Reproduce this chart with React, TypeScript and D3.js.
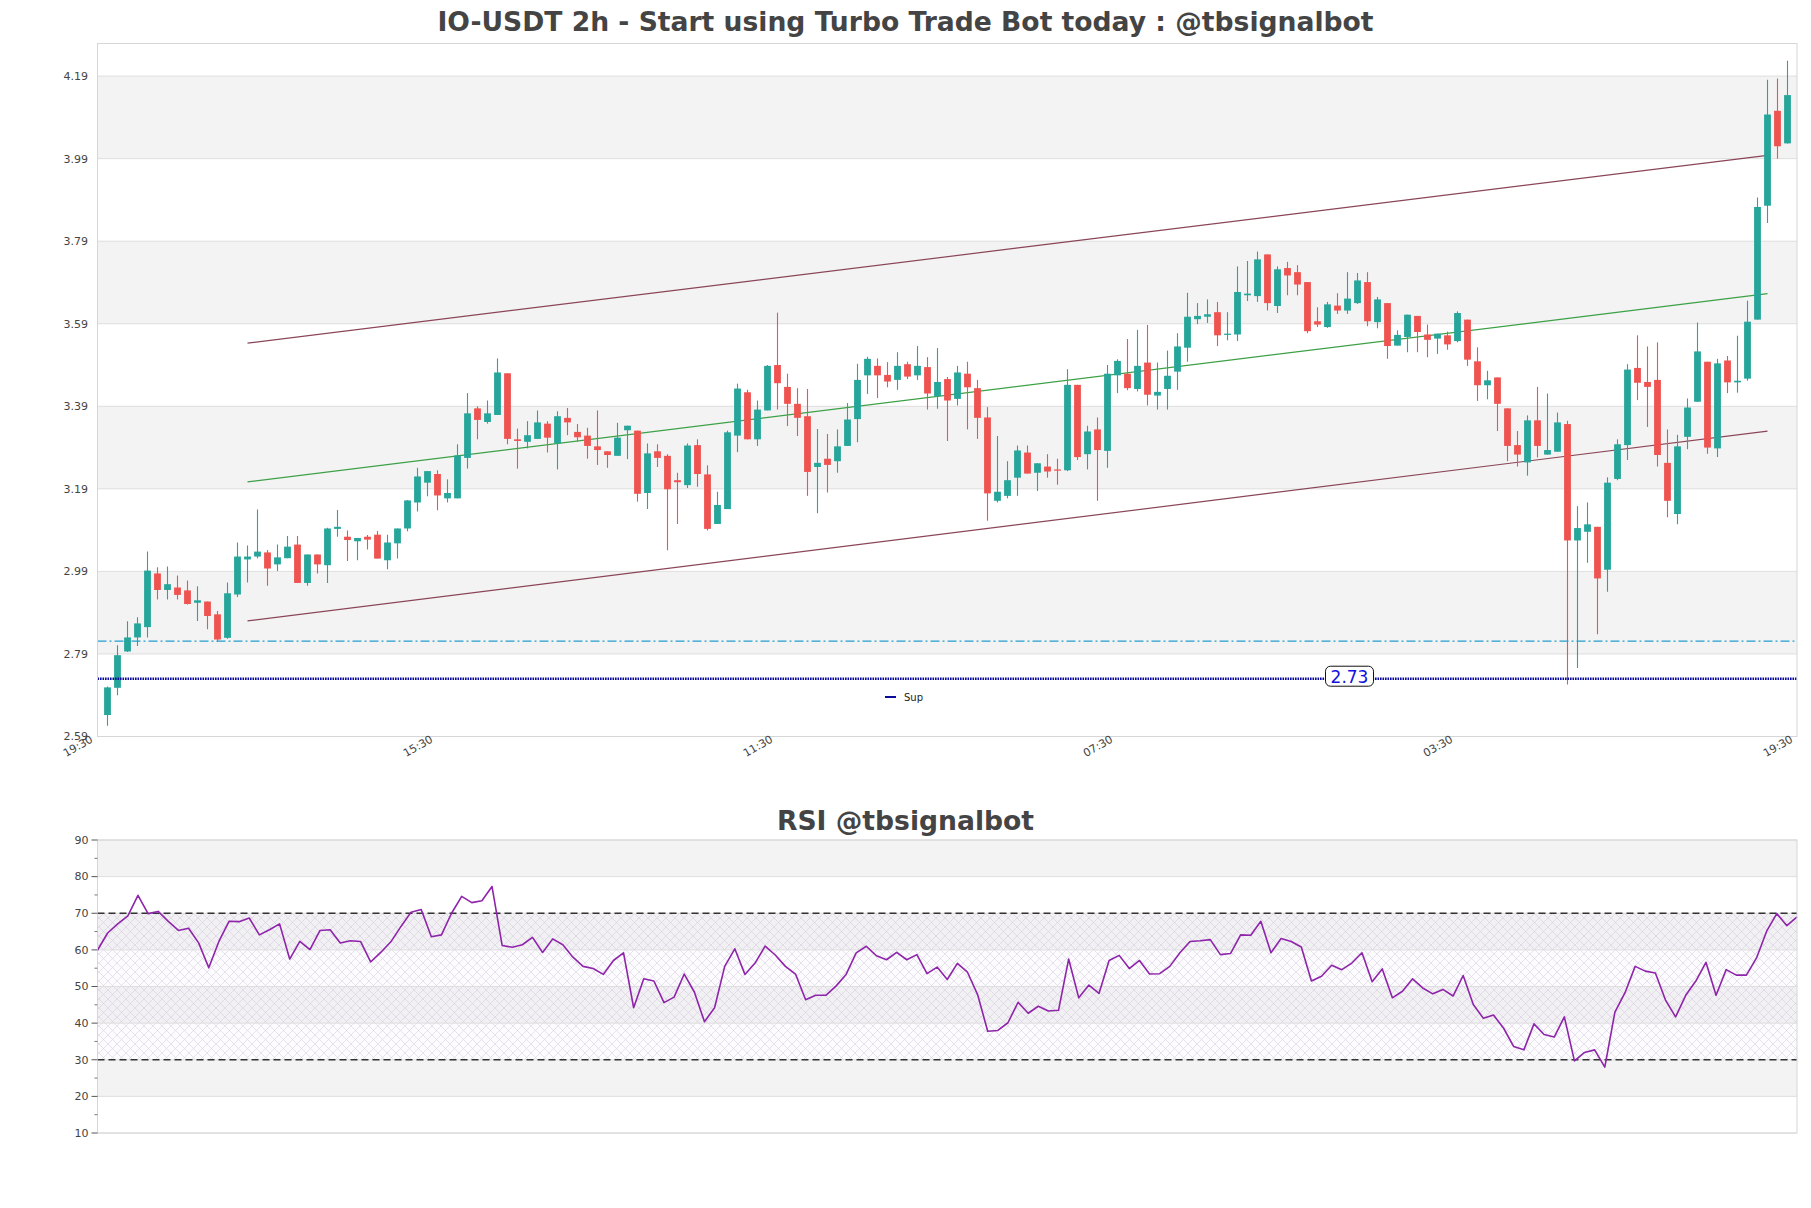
import * as d3 from 'd3';

// candles, 2h, oldest first
const opens = [
  2.642, 2.708, 2.796, 2.83, 2.855, 2.985, 2.945, 2.951, 2.944, 2.914,
  2.917, 2.886, 2.829, 2.934, 3.019, 3.026, 3.036, 3.007, 3.022, 3.055,
  2.962, 3.031, 3.005, 3.093, 3.074, 3.063, 3.074, 3.079, 3.017, 3.058,
  3.094, 3.157, 3.205, 3.226, 3.167, 3.167, 3.265, 3.385, 3.352, 3.369,
  3.47, 3.31, 3.304, 3.311, 3.348, 3.3, 3.362, 3.328, 3.319, 3.293,
  3.281, 3.27, 3.332, 3.331, 3.18, 3.281, 3.27, 3.211, 3.199, 3.296,
  3.225, 3.105, 3.141, 3.319, 3.424, 3.31, 3.38, 3.49, 3.437, 3.396,
  3.366, 3.243, 3.263, 3.257, 3.294, 3.359, 3.465, 3.488, 3.466, 3.454,
  3.492, 3.465, 3.485, 3.414, 3.456, 3.408, 3.469, 3.434, 3.363, 3.161,
  3.173, 3.217, 3.278, 3.229, 3.244, 3.237, 3.235, 3.442, 3.274, 3.334,
  3.282, 3.465, 3.469, 3.432, 3.496, 3.416, 3.432, 3.474, 3.532, 3.601,
  3.607, 3.618, 3.563, 3.564, 3.659, 3.657, 3.758, 3.633, 3.725, 3.715,
  3.691, 3.596, 3.582, 3.634, 3.622, 3.64, 3.691, 3.594, 3.64, 3.537,
  3.558, 3.609, 3.564, 3.554, 3.562, 3.548, 3.6, 3.499, 3.441, 3.46,
  3.385, 3.296, 3.254, 3.356, 3.273, 3.28, 3.347, 3.065, 3.086, 3.098,
  2.994, 3.214, 3.296, 3.483, 3.449, 3.454, 3.253, 3.129, 3.316, 3.401,
  3.498, 3.288, 3.501, 3.448, 3.457, 3.6, 3.876, 4.106, 4.027,
];
const highs = [
  2.711, 2.811, 2.869, 2.879, 3.038, 3.0, 3.002, 2.98, 2.968, 2.954,
  2.917, 2.894, 2.963, 3.06, 3.053, 3.14, 3.042, 3.055, 3.076, 3.076,
  3.031, 3.031, 3.096, 3.139, 3.089, 3.071, 3.078, 3.088, 3.079, 3.094,
  3.163, 3.241, 3.233, 3.235, 3.213, 3.298, 3.422, 3.39, 3.404, 3.506,
  3.47, 3.336, 3.354, 3.38, 3.354, 3.378, 3.386, 3.347, 3.338, 3.38,
  3.281, 3.35, 3.343, 3.331, 3.3, 3.298, 3.274, 3.229, 3.3, 3.31,
  3.247, 3.183, 3.331, 3.445, 3.43, 3.404, 3.49, 3.617, 3.469, 3.434,
  3.432, 3.335, 3.323, 3.334, 3.398, 3.493, 3.51, 3.506, 3.497, 3.521,
  3.498, 3.536, 3.509, 3.531, 3.461, 3.488, 3.498, 3.454, 3.388, 3.318,
  3.257, 3.295, 3.295, 3.252, 3.274, 3.263, 3.48, 3.442, 3.343, 3.363,
  3.49, 3.504, 3.553, 3.575, 3.587, 3.496, 3.525, 3.567, 3.665, 3.64,
  3.649, 3.643, 3.618, 3.729, 3.742, 3.765, 3.758, 3.729, 3.74, 3.732,
  3.691, 3.63, 3.643, 3.664, 3.715, 3.713, 3.715, 3.655, 3.64, 3.574,
  3.612, 3.609, 3.588, 3.566, 3.571, 3.62, 3.6, 3.533, 3.476, 3.46,
  3.385, 3.33, 3.368, 3.437, 3.421, 3.375, 3.355, 3.148, 3.157, 3.098,
  3.218, 3.31, 3.492, 3.562, 3.535, 3.545, 3.334, 3.321, 3.409, 3.593,
  3.498, 3.505, 3.512, 3.561, 3.646, 3.896, 4.181, 4.184, 4.227,
];
const lows = [
  2.616, 2.69, 2.795, 2.809, 2.83, 2.922, 2.922, 2.922, 2.91, 2.87,
  2.85, 2.819, 2.827, 2.928, 2.963, 3.022, 2.955, 2.991, 3.022, 2.962,
  2.955, 2.985, 2.962, 3.074, 3.015, 3.017, 3.043, 3.021, 2.995, 3.021,
  3.087, 3.135, 3.172, 3.138, 3.157, 3.167, 3.239, 3.31, 3.348, 3.369,
  3.298, 3.239, 3.288, 3.311, 3.278, 3.237, 3.32, 3.304, 3.263, 3.248,
  3.241, 3.27, 3.262, 3.159, 3.141, 3.243, 3.041, 3.105, 3.192, 3.195,
  3.089, 3.105, 3.141, 3.279, 3.31, 3.294, 3.38, 3.382, 3.342, 3.318,
  3.173, 3.131, 3.181, 3.229, 3.294, 3.303, 3.42, 3.41, 3.436, 3.43,
  3.456, 3.454, 3.382, 3.384, 3.306, 3.392, 3.334, 3.311, 3.113, 3.157,
  3.167, 3.173, 3.227, 3.185, 3.217, 3.2, 3.233, 3.26, 3.237, 3.161,
  3.241, 3.422, 3.429, 3.426, 3.392, 3.382, 3.382, 3.43, 3.498, 3.589,
  3.592, 3.536, 3.55, 3.548, 3.645, 3.643, 3.622, 3.616, 3.659, 3.659,
  3.567, 3.582, 3.58, 3.614, 3.614, 3.638, 3.584, 3.579, 3.505, 3.537,
  3.521, 3.521, 3.509, 3.517, 3.527, 3.545, 3.488, 3.403, 3.407, 3.33,
  3.257, 3.244, 3.222, 3.266, 3.273, 3.28, 2.716, 2.756, 3.011, 2.838,
  2.941, 3.211, 3.26, 3.405, 3.34, 3.244, 3.121, 3.104, 3.286, 3.401,
  3.275, 3.267, 3.422, 3.423, 3.452, 3.6, 3.834, 3.99, 4.027,
];
const closes = [
  2.709, 2.787, 2.83, 2.864, 2.992, 2.945, 2.959, 2.933, 2.911, 2.92,
  2.882, 2.825, 2.937, 3.026, 3.026, 3.038, 2.997, 3.024, 3.05, 2.962,
  3.031, 3.007, 3.094, 3.098, 3.066, 3.071, 3.067, 3.021, 3.06, 3.094,
  3.162, 3.22, 3.233, 3.174, 3.18, 3.271, 3.373, 3.357, 3.373, 3.472,
  3.311, 3.306, 3.32, 3.351, 3.314, 3.366, 3.351, 3.315, 3.294, 3.284,
  3.272, 3.314, 3.343, 3.178, 3.276, 3.265, 3.189, 3.206, 3.295, 3.226,
  3.093, 3.151, 3.327, 3.433, 3.31, 3.382, 3.488, 3.446, 3.396, 3.362,
  3.231, 3.253, 3.248, 3.293, 3.358, 3.454, 3.505, 3.465, 3.45, 3.488,
  3.462, 3.488, 3.421, 3.449, 3.404, 3.472, 3.436, 3.362, 3.179, 3.183,
  3.211, 3.283, 3.227, 3.252, 3.232, 3.234, 3.442, 3.267, 3.329, 3.284,
  3.469, 3.5, 3.434, 3.488, 3.418, 3.425, 3.464, 3.535, 3.607, 3.609,
  3.613, 3.562, 3.566, 3.667, 3.663, 3.746, 3.64, 3.722, 3.707, 3.685,
  3.572, 3.588, 3.637, 3.622, 3.651, 3.695, 3.596, 3.649, 3.536, 3.563,
  3.612, 3.57, 3.551, 3.566, 3.54, 3.616, 3.503, 3.441, 3.453, 3.396,
  3.294, 3.273, 3.356, 3.294, 3.284, 3.351, 3.065, 3.095, 3.104, 2.973,
  3.205, 3.298, 3.479, 3.447, 3.437, 3.272, 3.161, 3.293, 3.387, 3.523,
  3.29, 3.494, 3.448, 3.452, 3.595, 3.873, 4.097, 4.02, 4.144,
];

const rsiValues = [
  59.9, 64.6, 67.1, 69.3, 74.9, 69.9, 70.5, 67.8, 65.3, 65.9,
  61.9, 55.1, 62.3, 67.8, 67.7, 68.7, 64.1, 65.5, 67.1, 57.5,
  62.3, 60.1, 65.3, 65.5, 61.9, 62.5, 62.3, 56.7, 59.3, 62.2,
  66.4, 70.3, 71.0, 63.6, 64.1, 70.0, 74.6, 72.9, 73.4, 77.3,
  61.2, 60.7, 61.4, 63.4, 59.3, 63.0, 61.4, 58.0, 55.5, 54.9,
  53.3, 57.1, 59.2, 44.2, 52.1, 51.5, 45.6, 47.1, 53.4, 48.5,
  40.4, 44.2, 55.5, 60.3, 53.3, 56.4, 61.0, 58.6, 55.5, 53.4,
  46.4, 47.6, 47.6, 50.1, 53.3, 59.2, 61.0, 58.4, 57.3, 59.3,
  57.3, 58.7, 53.5, 55.3, 51.9, 56.3, 53.9, 47.8, 37.8, 38.0,
  40.1, 45.7, 42.7, 44.6, 43.3, 43.5, 57.5, 46.9, 50.4, 48.1,
  57.1, 58.5, 54.9, 57.1, 53.4, 53.5, 55.5, 59.2, 62.3, 62.5,
  62.8, 58.7, 59.0, 64.1, 64.0, 67.8, 59.2, 63.1, 62.3, 60.8,
  51.5, 52.8, 55.8, 54.6, 56.4, 59.2, 51.3, 54.8, 46.9, 48.7,
  52.1, 49.6, 48.0, 49.2, 47.4, 53.0, 45.1, 41.3, 42.2, 38.6,
  33.6, 32.7, 39.8, 36.9, 36.2, 41.7, 29.7, 32.0, 32.7, 28.0,
  43.0, 48.3, 55.5, 54.2, 53.7, 46.3, 41.7, 47.6, 51.5, 56.6,
  47.6, 54.6, 53.1, 53.1, 57.8, 65.1, 69.9, 66.6, 69.0,
];

const priceTicks = [2.59, 2.79, 2.99, 3.19, 3.39, 3.59, 3.79, 3.99, 4.19];
const timeLabels = ['19:30', '15:30', '11:30', '07:30', '03:30', '19:30'];
const timeTickIndex = [-1, 33, 67, 101, 135, 169];
const rsiTicks = [10, 20, 30, 40, 50, 60, 70, 80, 90];
const rsiMinorTicks = [15, 25, 35, 45, 55, 65, 75, 85];

// trend channel (start / end candle)
const channelIndex = [14, 166];
const channelUpper = [3.543, 3.998];
const channelMid = [3.207, 3.663];
const channelLower = [2.87, 3.33];

const supportLevel = 2.73;
const supportLabelIndex = 124.2;
const dashLevel = 2.821;

const W = 1811;
const H = 1208;
const FONT = 'DejaVu Sans, sans-serif';
const GREEN = '#26a69a';
const RED = '#ef5350';
const BAND = '#f3f3f3';
const GRID = '#dedede';

const main = { left: 97.5, right: 1797, top: 43.5, bottom: 736.5 };
const sub = { left: 97.5, right: 1797, top: 840, bottom: 1133 };

export default function App() {
  const x = d3.scaleLinear().domain([-1, 169]).range([97.5, 1797.5]);
  const y = d3.scaleLinear().domain([2.59, 4.269]).range([main.bottom, main.top]);
  const xr = d3.scaleLinear().domain([0, rsiValues.length - 1]).range([sub.left, sub.right]);
  const yr = d3.scaleLinear().domain([10, 90]).range([sub.bottom, sub.top]);

  const bodyW = (x(1) - x(0)) * 0.68;
  const rsiLine = d3
    .line<number>()
    .x((_, i) => xr(i))
    .y((d) => yr(d));

  const chan = (vals: number[], color: string) => (
    <line
      x1={x(channelIndex[0])}
      y1={y(vals[0])}
      x2={x(channelIndex[1])}
      y2={y(vals[1])}
      stroke={color}
      strokeWidth={1.2}
    />
  );

  const supX = x(supportLabelIndex);

  return (
    <svg
      width={W}
      height={H}
      style={{ position: 'absolute', left: 0, top: 0, background: '#fff' }}
      fontFamily={FONT}
    >
      <defs>
        <pattern id="hatch" width={9} height={9} patternUnits="userSpaceOnUse">
          <path d="M0,0 L9,9 M9,0 L0,9" stroke="#d2c6dc" strokeWidth={0.5} fill="none" />
        </pattern>
        <clipPath id="mainClip">
          <rect x={main.left} y={main.top} width={main.right - main.left} height={main.bottom - main.top} />
        </clipPath>
      </defs>
      <rect width={W} height={H} fill="#fff" />

      {/* titles */}
      <text x={W / 2} y={31} textAnchor="middle" fontSize={26.6} fontWeight="bold" fill="#444">
        IO-USDT 2h - Start using Turbo Trade Bot today : @tbsignalbot
      </text>
      <text x={W / 2} y={830} textAnchor="middle" fontSize={26.6} fontWeight="bold" fill="#444">
        RSI @tbsignalbot
      </text>

      {/* price panel */}
      <g clipPath="url(#mainClip)">
        {priceTicks.slice(0, -1).map((t, i) =>
          i % 2 === 1 ? (
            <rect
              key={'b' + i}
              x={main.left}
              y={y(priceTicks[i + 1])}
              width={main.right - main.left}
              height={y(t) - y(priceTicks[i + 1])}
              fill={BAND}
            />
          ) : null
        )}
        {priceTicks.map((t) => (
          <line key={'g' + t} x1={main.left} x2={main.right} y1={y(t)} y2={y(t)} stroke={GRID} strokeWidth={1} />
        ))}

        {chan(channelUpper, '#8a4557')}
        {chan(channelMid, '#3ca046')}
        {chan(channelLower, '#8a4557')}

        <line
          x1={main.left}
          x2={main.right}
          y1={y(dashLevel)}
          y2={y(dashLevel)}
          stroke="#239fcf"
          strokeWidth={1.1}
          strokeDasharray="9,3,2,3"
        />

        {opens.map((o, i) => {
          const c = closes[i];
          const up = c >= o;
          const col = up ? GREEN : RED;
          const top = y(Math.max(o, c));
          const bot = y(Math.min(o, c));
          return (
            <g key={'c' + i}>
              <line x1={x(i)} x2={x(i)} y1={y(highs[i])} y2={y(lows[i])} stroke={col} strokeWidth={1.1} />
              <rect x={x(i) - bodyW / 2} y={top} width={bodyW} height={Math.max(1.2, bot - top)} fill={col} />
            </g>
          );
        })}

        <line
          x1={main.left}
          x2={main.right}
          y1={y(supportLevel)}
          y2={y(supportLevel)}
          stroke="#0b0b9a"
          strokeWidth={2.6}
          strokeDasharray="1.6,0.9"
        />
      </g>

      {/* support label */}
      <rect x={supX - 24} y={y(supportLevel) - 12.5} width={48} height={20} rx={5} fill="#fff" stroke="#111" strokeWidth={1} />
      <text x={supX} y={y(supportLevel) + 4} textAnchor="middle" fontSize={17} fill="#1010e0">
        {supportLevel.toFixed(2)}
      </text>

      {/* legend */}
      <line x1={885} x2={896} y1={697} y2={697} stroke="#0b0b9a" strokeWidth={2} />
      <text x={904} y={700.5} fontSize={10} fill="#222">Sup</text>

      <rect x={main.left} y={main.top} width={main.right - main.left} height={main.bottom - main.top} fill="none" stroke="#d6d6d6" />

      {priceTicks.map((t) => (
        <text key={'pl' + t} x={88} y={y(t)} dy="0.35em" textAnchor="end" fontSize={11} fill="#444">
          {t.toFixed(2)}
        </text>
      ))}
      {timeTickIndex.map((ti, k) => (
        <text
          key={'tl' + k}
          transform={`translate(${x(ti) - 4},${main.bottom + 5}) rotate(-30)`}
          textAnchor="end"
          fontSize={11}
          fill="#444"
        >
          {timeLabels[k]}
        </text>
      ))}

      {/* RSI panel */}
      {rsiTicks.slice(0, -1).map((t, i) =>
        i % 2 === 1 ? (
          <rect
            key={'rb' + i}
            x={sub.left}
            y={yr(rsiTicks[i + 1])}
            width={sub.right - sub.left}
            height={yr(t) - yr(rsiTicks[i + 1])}
            fill={BAND}
          />
        ) : null
      )}
      <rect x={sub.left} y={yr(70)} width={sub.right - sub.left} height={yr(30) - yr(70)} fill="#ece6f1" opacity={0.15} />
      <rect x={sub.left} y={yr(70)} width={sub.right - sub.left} height={yr(30) - yr(70)} fill="url(#hatch)" />
      {rsiTicks.map((t) => (
        <line key={'rg' + t} x1={sub.left} x2={sub.right} y1={yr(t)} y2={yr(t)} stroke={GRID} strokeWidth={1} />
      ))}
      {[70, 30].map((t) => (
        <line
          key={'rd' + t}
          x1={sub.left}
          x2={sub.right}
          y1={yr(t)}
          y2={yr(t)}
          stroke="#333"
          strokeWidth={1.3}
          strokeDasharray="7,4"
        />
      ))}
      <path d={rsiLine(rsiValues) ?? ''} fill="none" stroke="#8e24aa" strokeWidth={1.6} strokeLinejoin="round" />
      <rect x={sub.left} y={sub.top} width={sub.right - sub.left} height={sub.bottom - sub.top} fill="none" stroke="#d6d6d6" />

      {rsiTicks.map((t) => (
        <g key={'rt' + t}>
          <line x1={sub.left - 6} x2={sub.left} y1={yr(t)} y2={yr(t)} stroke="#555" />
          <text x={sub.left - 9} y={yr(t)} dy="0.35em" textAnchor="end" fontSize={11} fill="#444">
            {t}
          </text>
        </g>
      ))}
      {rsiMinorTicks.map((t) => (
        <line key={'rm' + t} x1={sub.left - 3} x2={sub.left} y1={yr(t)} y2={yr(t)} stroke="#777" />
      ))}
    </svg>
  );
}
